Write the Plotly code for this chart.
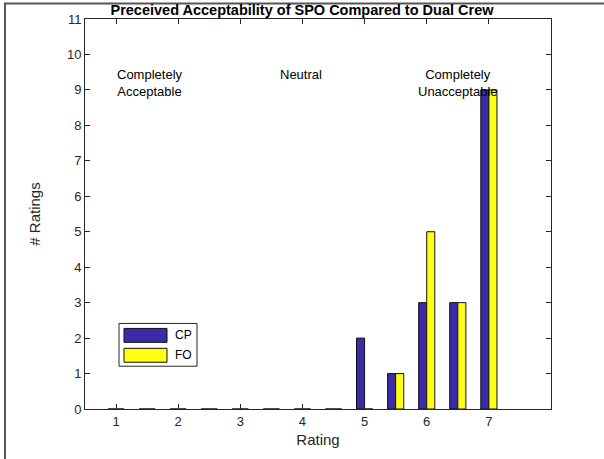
import plotly.graph_objects as go

# ---- data ----
ratings = [1, 1.5, 2, 2.5, 3, 3.5, 4, 4.5, 5, 5.5, 6, 6.5, 7]
cp_counts = [0, 0, 0, 0, 0, 0, 0, 0, 2, 1, 3, 3, 9]
fo_counts = [0, 0, 0, 0, 0, 0, 0, 0, 0, 1, 5, 3, 9]
series_names = ["CP", "FO"]
x_ticks = [1, 2, 3, 4, 5, 6, 7]
y_ticks = list(range(0, 12))
scale_labels = [(1.55, "Completely<br>Acceptable"), (3.97, "Neutral"), (6.5, "Completely<br>Unacceptable")]

CP_COLOR = "#3A2BA8"
FO_COLOR = "#FFFF14"
AX = "#262626"
FONT = "Liberation Sans, Arial, sans-serif"

fig = go.Figure()
fig.add_trace(go.Bar(x=ratings, y=cp_counts, name=series_names[0],
                     marker=dict(color=CP_COLOR, line=dict(color="#111111", width=1))))
fig.add_trace(go.Bar(x=ratings, y=fo_counts, name=series_names[1],
                     marker=dict(color=FO_COLOR, line=dict(color="#111111", width=1))))

W, H = 604, 459
L, R, T, B = 85, 53, 17, 50

axis_common = dict(showline=True, linecolor=AX, linewidth=1, mirror="ticks",
                   ticks="inside", ticklen=5, tickcolor=AX, showgrid=False,
                   zeroline=False, tickfont=dict(family=FONT, size=13, color=AX))

fig.update_layout(
    width=W, height=H,
    margin=dict(l=L, r=R, t=T, b=B),
    paper_bgcolor="white", plot_bgcolor="white",
    barmode="group", bargap=0.48, bargroupgap=0,
    showlegend=False,
    title=dict(text="<b>Preceived Acceptability of SPO Compared to Dual Crew</b>",
               x=0.5, xanchor="center", y=1 - 9.5 / H, yanchor="middle",
               font=dict(family=FONT, size=14.5, color="black")),
    xaxis=dict(range=[0.5, 8], tickvals=x_ticks, ticktext=[str(v) for v in x_ticks],
               title=dict(text="Rating", font=dict(family=FONT, size=15, color=AX), standoff=6),
               **axis_common),
    yaxis=dict(range=[0, 11], tickvals=y_ticks,
               title=dict(text="# Ratings", font=dict(family=FONT, size=15, color=AX), standoff=22),
               **axis_common),
)

for xv, txt in scale_labels:
    fig.add_annotation(x=xv, y=9.7, xref="x", yref="y", text=txt, showarrow=False,
                       xanchor="center", yanchor="top", align="center",
                       font=dict(family=FONT, size=13, color="black"))

# manual legend (decoration) in paper coords
pw = W - L - R
ph = H - T - B
def px_x(p):
    return (p - L) / pw
def px_y(p):
    return (H - B - p) / ph

fig.add_shape(type="rect", xref="paper", yref="paper",
              x0=px_x(119), x1=px_x(197), y0=px_y(366), y1=px_y(323),
              line=dict(color=AX, width=1), fillcolor="white", layer="above")
for i, (nm, col) in enumerate(zip(series_names, [CP_COLOR, FO_COLOR])):
    y0 = 328 + i * 20
    fig.add_shape(type="rect", xref="paper", yref="paper",
                  x0=px_x(124), x1=px_x(167), y0=px_y(y0 + 14), y1=px_y(y0),
                  line=dict(color="#111111", width=1), fillcolor=col, layer="above")
    fig.add_annotation(x=px_x(173), y=px_y(y0 + 7), xref="paper", yref="paper",
                       text=nm, showarrow=False, xanchor="left", yanchor="middle",
                       font=dict(family=FONT, size=12, color="black"))

# outer frame
fig.add_shape(type="rect", xref="paper", yref="paper",
              x0=px_x(5), x1=px_x(700), y0=px_y(560), y1=px_y(1.5),
              line=dict(color="#555555", width=2), fillcolor="rgba(0,0,0,0)", layer="above")

fig.write_html("out.html", config={"displayModeBar": False},
               post_script="document.body.style.margin='0px';")
